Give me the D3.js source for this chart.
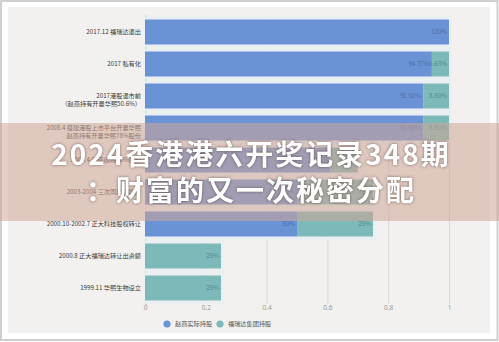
<!DOCTYPE html>
<html>
<head>
<meta charset="utf-8">
<script src="https://cdn.jsdelivr.net/npm/d3@7"></script>
<style>
  html, body { margin: 0; padding: 0; background: #fff; }
  body { width: 499px; height: 342px; overflow: hidden; font-family: "Noto Sans CJK SC", "Noto Sans", sans-serif; }
</style>
</head>
<body>
<script>
// categories top to bottom, each may have two lines
const categories = [
  ['2017.12 福瑞达退出'],
  ['2017 私有化'],
  ['2017港股退市前', '（赵燕持有开曼华熙50.6%）'],
  ['2008.4  搭建港股上市平台开曼华熙', '赵燕持有开曼华熙78%股份'],
  ['2004.4 赵燕收购50%股权'],
  ['2003-2004 三次同比例增资'],
  ['2000.10-2002.7 正大科技股权转让'],
  ['2000.8 正大福瑞达转让出资额'],
  ['1999.11 华熙生物设立']
];
const zhaoyan = [1, 0.9437, 0.915, 0.915, 0.61, 0.5, 0.5, 0, 0];
const furuida = [0, 0.0563, 0.085, 0.085, 0.09, 0.25, 0.25, 0.25, 0.25];
const seriesNames = ['赵燕实际持股', '福瑞达集团持股'];
const xTicks = [0, 0.2, 0.4, 0.6, 0.8, 1];
const titleLines = ['2024香港港六开奖记录348期', '：财富的又一次秘密分配'];

const W = 499, H = 342;
const colors = ['#6a93d6', '#7db9b9'];

const svg = d3.select('body').append('svg')
  .attr('width', W)
  .attr('height', H);

// frame + card
svg.append('rect').attr('x', 1).attr('y', 1).attr('width', W - 2.5).attr('height', H - 3)
  .attr('fill', '#fff').attr('stroke', '#cfcfcf').attr('stroke-width', 2);
svg.append('rect').attr('x', 8).attr('y', 7).attr('width', 482).attr('height', 326)
  .attr('fill', '#f2f1ef');

const keys = categories.map((d, i) => i);
const x = d3.scaleLinear().domain([0, 1]).range([145, 449]);
const y = d3.scaleBand().domain(keys).range([16, 304]).paddingInner(0.22).paddingOuter(0.11);

// grid
svg.append('g')
  .attr('transform', 'translate(0,304)')
  .call(d3.axisBottom(x).tickValues(xTicks).tickSize(-288).tickFormat(d3.format('')))
  .call(g => g.select('.domain').remove())
  .call(g => g.selectAll('.tick line').attr('stroke', '#d9d9d9'))
  .call(g => g.selectAll('.tick text').attr('fill', '#9a9a9a').attr('font-size', 6.5)
    .attr('dy', 3).attr('font-family', '"Noto Sans", sans-serif'));

// y axis line with small ticks between rows
svg.append('g')
  .attr('transform', 'translate(145,0)')
  .call(d3.axisRight(y).tickSize(2).tickFormat(''))
  .call(g => g.select('.domain').attr('stroke', '#d5d5d5'))
  .call(g => g.selectAll('.tick').attr('transform', d => `translate(0,${y(d) - y.step() * y.paddingInner() / 2})`))
  .call(g => g.selectAll('.tick line').attr('stroke', '#cfcfcf'));

// stacked segments
const stack = d3.stack().keys([0, 1]).value((d, k) => d[k]);
const rows = keys.map(i => ({ i, 0: zhaoyan[i], 1: furuida[i] }));
const layers = stack(rows);

const pct = v => {
  const p = v * 100;
  return (Math.abs(p - Math.round(p)) < 1e-6 ? Math.round(p) : p.toFixed(2)) + '%';
};

// light halo around bars
layers.forEach(layer => {
  svg.append('g').selectAll('rect')
    .data(layer.filter(d => d[1] > d[0]))
    .join('rect')
    .attr('x', d => x(d[0]) - 0.5)
    .attr('y', d => y(d.data.i) - 3)
    .attr('width', d => x(d[1]) - x(d[0]) + 3)
    .attr('height', y.bandwidth() + 6)
    .attr('fill', '#e9eff3');
});

layers.forEach((layer, k) => {
  const g = svg.append('g');
  const segs = layer.filter(d => d[1] > d[0]);
  g.selectAll('rect')
    .data(segs)
    .join('rect')
    .attr('x', d => x(d[0]))
    .attr('y', d => y(d.data.i))
    .attr('width', d => x(d[1]) - x(d[0]))
    .attr('height', y.bandwidth())
    .attr('fill', colors[k]);
  g.selectAll('text')
    .data(segs)
    .join('text')
    .attr('x', d => x(d[1]) - 2)
    .attr('y', d => y(d.data.i) + y.bandwidth() / 2)
    .attr('dy', '0.35em')
    .attr('text-anchor', 'end')
    .attr('font-size', 6.3)
    .attr('fill', k === 0 ? '#4a6fa8' : '#4f8c8c')
    .text(d => pct(d[1] - d[0]));
});

// category labels
const lab = svg.append('g').attr('font-size', 6.2).attr('fill', '#3a3a3a').attr('text-anchor', 'end');
categories.forEach((lines, i) => {
  const cy = y(i) + y.bandwidth() / 2;
  const t = lab.append('text').attr('x', 141);
  lines.forEach((s, j) => {
    const off = lines.length === 1 ? 0 : (j === 0 ? -0.5 : 7.5);
    t.append('tspan').attr('x', 141).attr('y', cy + off).attr('dy', '0.35em').text(s);
  });
});

// legend
const leg = svg.append('g').attr('font-size', 6.2).attr('fill', '#555');
const legX = [167, 220];
seriesNames.forEach((name, k) => {
  leg.append('circle').attr('cx', legX[k]).attr('cy', 324).attr('r', 3.6).attr('fill', colors[k]);
  leg.append('text').attr('x', legX[k] + 8).attr('y', 324).attr('dy', '0.35em').text(name);
});

// overlay banner with title
svg.append('rect').attr('x', 0).attr('y', 123).attr('width', W).attr('height', 98)
  .attr('fill', 'rgb(208,166,150)').attr('opacity', 0.55);

const title = svg.append('g')
  .attr('font-size', 28)
  .attr('font-weight', 700)
  .attr('fill', '#fff')
  .attr('text-anchor', 'middle')
  .style('letter-spacing', '2px')
  .style('filter', 'drop-shadow(0 0 1.5px rgba(60,40,40,0.6))');
titleLines.forEach((s, j) => {
  title.append('text').attr('x', 251).attr('y', 165 + j * 36).text(s);
});
</script>
</body>
</html>
